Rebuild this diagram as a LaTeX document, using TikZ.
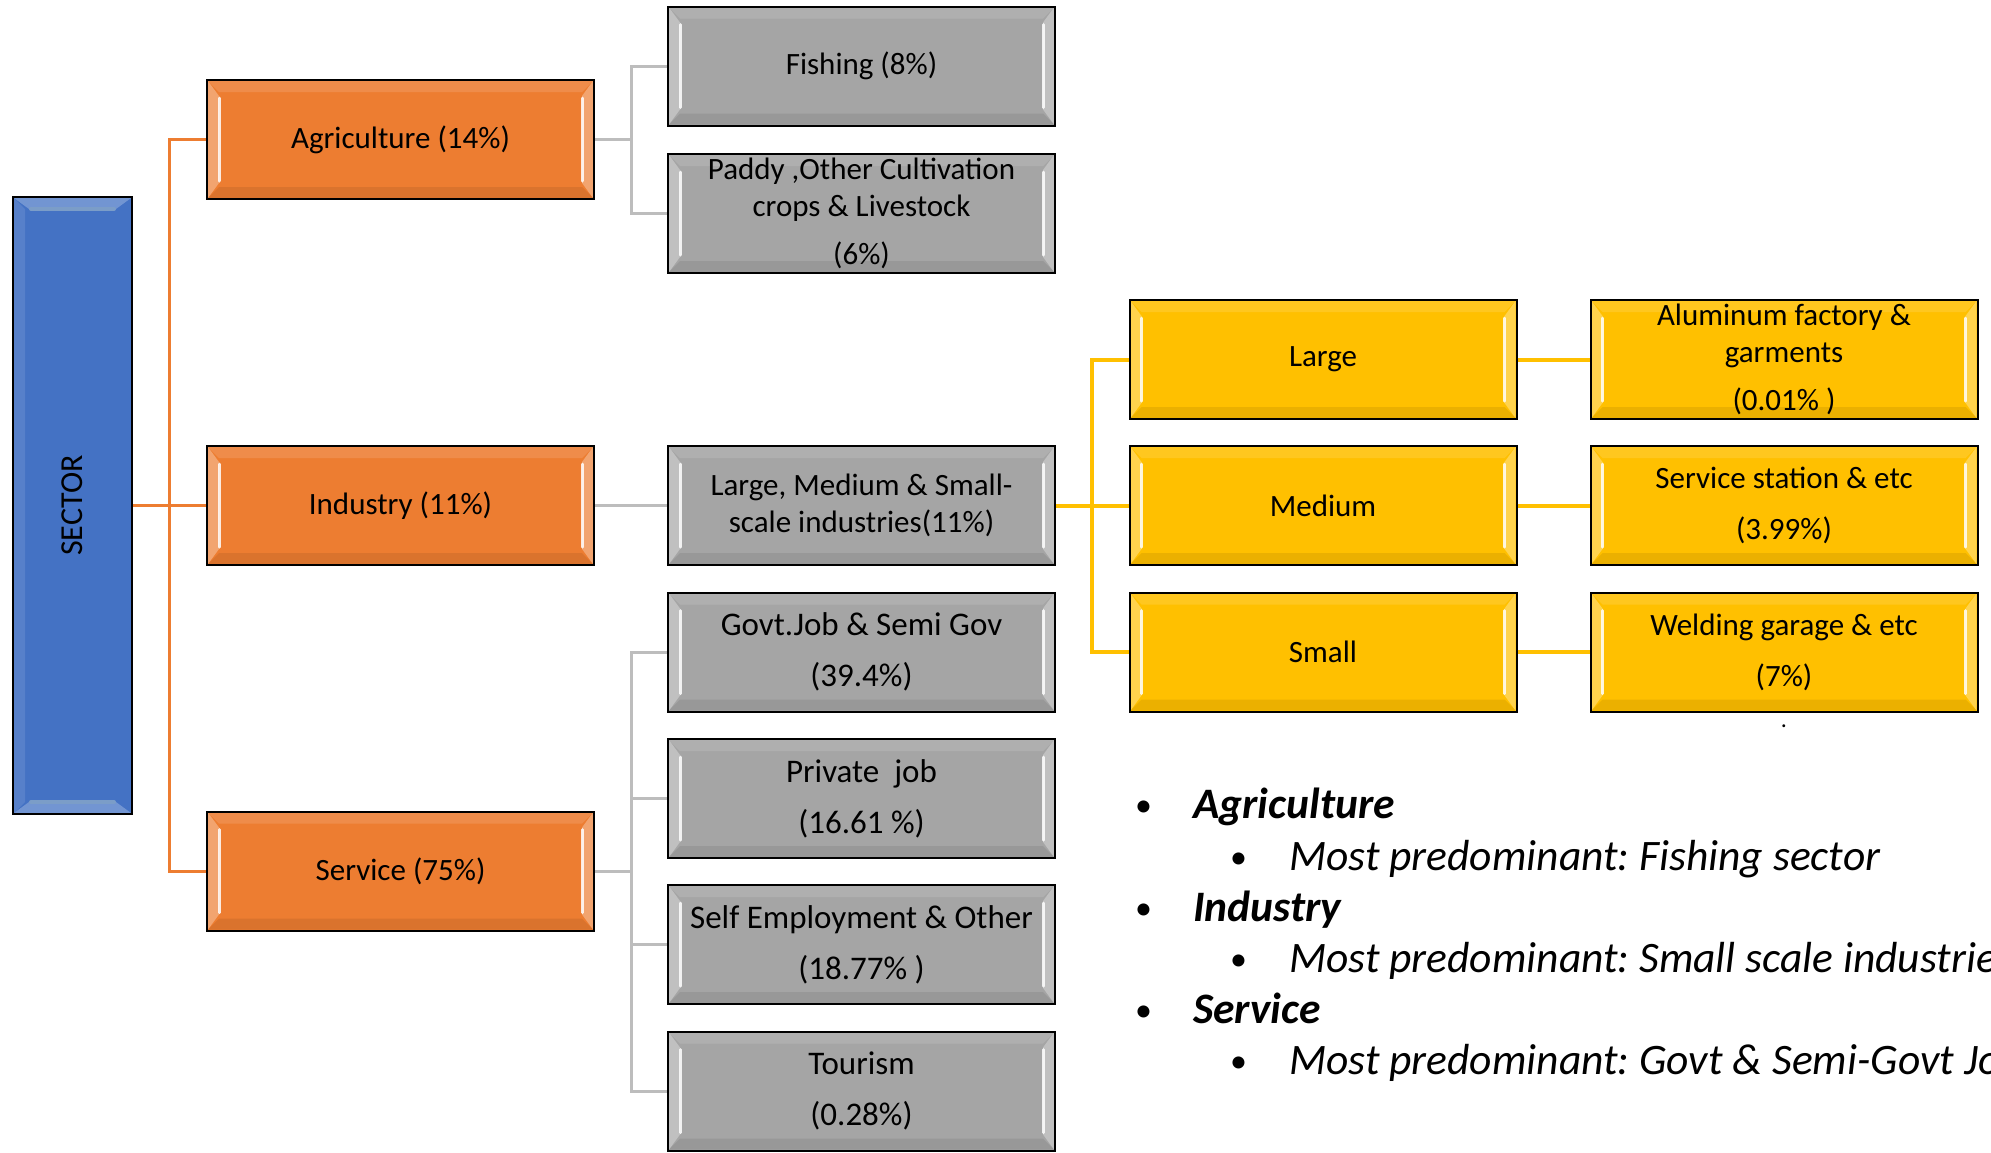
\documentclass[tikz,border=0pt]{standalone}
\usepackage{fontspec}
\setmainfont{Carlito}
\frenchspacing
\definecolor{cblue}{HTML}{4472C4}
\definecolor{corange}{HTML}{ED7D31}
\definecolor{cgray}{HTML}{A5A5A5}
\definecolor{cyellow}{HTML}{FFC000}
\definecolor{clgray}{HTML}{BDBDBD}
\newcommand{\boxfont}{\fontsize{31}{37}\selectfont}
\newcommand{\svcfont}{\fontsize{33}{38}\selectfont}
\newcommand{\bulfont}{\fontsize{43.5}{50}\selectfont\frenchspacing}
\tikzset{
  bevelLR/.style={path picture={
    \fill[white,opacity=0.30] ([shift={(1pt,-1pt)}]path picture bounding box.north west) -- ([shift={(12pt,-16pt)}]path picture bounding box.north west) -- ([shift={(12pt,16pt)}]path picture bounding box.south west) -- ([shift={(1pt,1pt)}]path picture bounding box.south west) -- cycle;
    \fill[white,opacity=0.30] ([shift={(-1pt,-1pt)}]path picture bounding box.north east) -- ([shift={(-12pt,-16pt)}]path picture bounding box.north east) -- ([shift={(-12pt,16pt)}]path picture bounding box.south east) -- ([shift={(-1pt,1pt)}]path picture bounding box.south east) -- cycle;
    \fill[white,opacity=0.12] ([shift={(1pt,-1pt)}]path picture bounding box.north west) -- ([shift={(12pt,-12pt)}]path picture bounding box.north west) -- ([shift={(-12pt,-12pt)}]path picture bounding box.north east) -- ([shift={(-1pt,-1pt)}]path picture bounding box.north east) -- cycle;
    \fill[black,opacity=0.08] ([shift={(1pt,1pt)}]path picture bounding box.south west) -- ([shift={(12pt,12pt)}]path picture bounding box.south west) -- ([shift={(-12pt,12pt)}]path picture bounding box.south east) -- ([shift={(-1pt,1pt)}]path picture bounding box.south east) -- cycle;
    \draw[white,line width=3pt,opacity=0.85,line cap=round] ([shift={(12pt,-18pt)}]path picture bounding box.north west) -- ([shift={(12pt,18pt)}]path picture bounding box.south west);
    \draw[white,line width=3pt,opacity=0.85,line cap=round] ([shift={(-12pt,-18pt)}]path picture bounding box.north east) -- ([shift={(-12pt,18pt)}]path picture bounding box.south east);
  }},
  bevelTB/.style={path picture={
    \fill[white,opacity=0.25] ([shift={(1pt,-1pt)}]path picture bounding box.north west) -- ([shift={(16pt,-12pt)}]path picture bounding box.north west) -- ([shift={(-16pt,-12pt)}]path picture bounding box.north east) -- ([shift={(-1pt,-1pt)}]path picture bounding box.north east) -- cycle;
    \fill[white,opacity=0.25] ([shift={(1pt,1pt)}]path picture bounding box.south west) -- ([shift={(16pt,12pt)}]path picture bounding box.south west) -- ([shift={(-16pt,12pt)}]path picture bounding box.south east) -- ([shift={(-1pt,1pt)}]path picture bounding box.south east) -- cycle;
    \fill[white,opacity=0.10] ([shift={(1pt,-1pt)}]path picture bounding box.north west) -- ([shift={(12pt,-12pt)}]path picture bounding box.north west) -- ([shift={(12pt,12pt)}]path picture bounding box.south west) -- ([shift={(1pt,1pt)}]path picture bounding box.south west) -- cycle;
    \draw[white!60!cyan!40!cblue,line width=4pt,line cap=round] ([shift={(18pt,-12pt)}]path picture bounding box.north west) -- ([shift={(-18pt,-12pt)}]path picture bounding box.north east);
    \draw[white!60!cyan!40!cblue,line width=4pt,line cap=round] ([shift={(18pt,12pt)}]path picture bounding box.south west) -- ([shift={(-18pt,12pt)}]path picture bounding box.south east);
  }},
  sbox/.style={draw=black, line width=2pt, minimum width=387pt, minimum height=119pt, inner sep=0pt, align=center, font=\boxfont, text=black, bevelLR},
  obox/.style={sbox, fill=corange},
  gbox/.style={sbox, fill=cgray},
  gsbox/.style={gbox, font=\svcfont},
  ybox/.style={sbox, fill=cyellow},
  oline/.style={draw=corange, line width=3pt},
  gline/.style={draw=clgray, line width=3pt},
  yline/.style={draw=cyellow, line width=4pt},
  bul/.style={anchor=base west, inner sep=0pt, font=\bulfont, text=black},
  bdot/.style={anchor=base west, inner sep=0pt, font=\fontsize{34}{40}\selectfont, text=black},
}
\begin{document}
\begin{tikzpicture}[x=1pt,y=-1pt]
\path[use as bounding box, fill=white] (0,0) rectangle (1991,1152);
\clip (0,0) rectangle (1991,1152);

% sector
\node[draw=black, line width=2pt, fill=cblue, minimum width=119pt, minimum height=617pt, inner sep=0pt, bevelTB] (sector) at (72.5,505.5) {};
\node[rotate=90, font=\fontsize{32}{38}\selectfont, text=black] (sectortxt) at (sector.center) {SECTOR};

% level 1
\node[obox] (agri) at (400.5,139.5) {Agriculture (14\%)};
\node[obox] (ind) at (400.5,505.5) {Industry (11\%)};
\node[obox] (serv) at (400.5,871) {Service (75\%)};

% level 2 gray
\node[gbox] (fish) at (861.5,66) {Fishing (8\%)};
\node[gbox] (paddy) at (861.5,213.5) {Paddy ,Other Cultivation\\crops \& Livestock\\[11pt](6\%)};
\node[gbox] (lms) at (861.5,505.5) {Large, Medium \& Small-\\scale industries(11\%)};
\node[gsbox] (govt) at (861.5,652) {Govt.Job \& Semi Gov\\[13pt](39.4\%)};
\node[gsbox] (priv) at (861.5,798.5) {Private\ \ job\\[13pt](16.61 \%)};
\node[gsbox] (self) at (861.5,944.5) {Self Employment \& Other\\[13pt](18.77\% )};
\node[gsbox] (tour) at (861.5,1091) {Tourism\\[13pt](0.28\%)};

% yellow
\node[ybox] (large) at (1323,359.5) {Large};
\node[ybox] (med) at (1323,505.5) {Medium};
\node[ybox] (small) at (1323,652) {Small};
\node[ybox] (alu) at (1784,359.5) {Aluminum factory \&\\garments\\[11pt](0.01\% )};
\node[ybox] (svc) at (1784,505.5) {Service station \& etc\\[14pt](3.99\%)};
\node[ybox] (weld) at (1784,652) {Welding garage \& etc\\[14pt](7\%)};
\node[font=\fontsize{24}{28}\selectfont, inner sep=0pt] (dot) at (1784,726) {.};

% buses
\coordinate (obus) at (169,0);
\coordinate (gbus) at (631,0);
\coordinate (ybus) at (1092,0);

% orange connectors
\draw[oline] (sector.east) -- (ind.west);
\draw[oline] (agri.west) -- (agri.west -| obus) -- (serv.west -| obus) -- (serv.west);

% gray connectors
\draw[gline] (agri.east) -- (agri.east -| gbus);
\draw[gline] (fish.west) -- (fish.west -| gbus) -- (paddy.west -| gbus) -- (paddy.west);
\draw[gline] (ind.east) -- (lms.west);
\draw[gline] (serv.east) -- (serv.east -| gbus);
\draw[gline] (govt.west) -- (govt.west -| gbus) -- (tour.west -| gbus) -- (tour.west);
\draw[gline] (priv.west) -- (priv.west -| gbus);
\draw[gline] (self.west) -- (self.west -| gbus);

% yellow connectors
\draw[yline] (lms.east) -- (med.west);
\draw[yline] (large.west) -- (large.west -| ybus) -- (small.west -| ybus) -- (small.west);
\draw[yline] (large.east) -- (alu.west);
\draw[yline] (med.east) -- (svc.west);
\draw[yline] (small.east) -- (weld.west);

% bullets
\node[bdot] (b1) at (1135,816) {•};
\node[bul] (t1) at (1193,818) {\bfseries\itshape Agriculture};
\node[bdot] (b2) at (1230,868) {•};
\node[bul] (t2) at (1289,870) {\itshape Most predominant: Fishing sector};
\node[bdot] (b3) at (1135,919) {•};
\node[bul] (t3) at (1193,921) {\bfseries\itshape Industry};
\node[bdot] (b4) at (1230,970) {•};
\node[bul] (t4) at (1289,972) {\itshape Most predominant: Small scale industries};
\node[bdot] (b5) at (1135,1021) {•};
\node[bul] (t5) at (1193,1023) {\bfseries\itshape Service};
\node[bdot] (b6) at (1230,1072) {•};
\node[bul] (t6) at (1289,1074) {\itshape Most predominant: Govt \& Semi-Govt Jobs};
\end{tikzpicture}
\end{document}
